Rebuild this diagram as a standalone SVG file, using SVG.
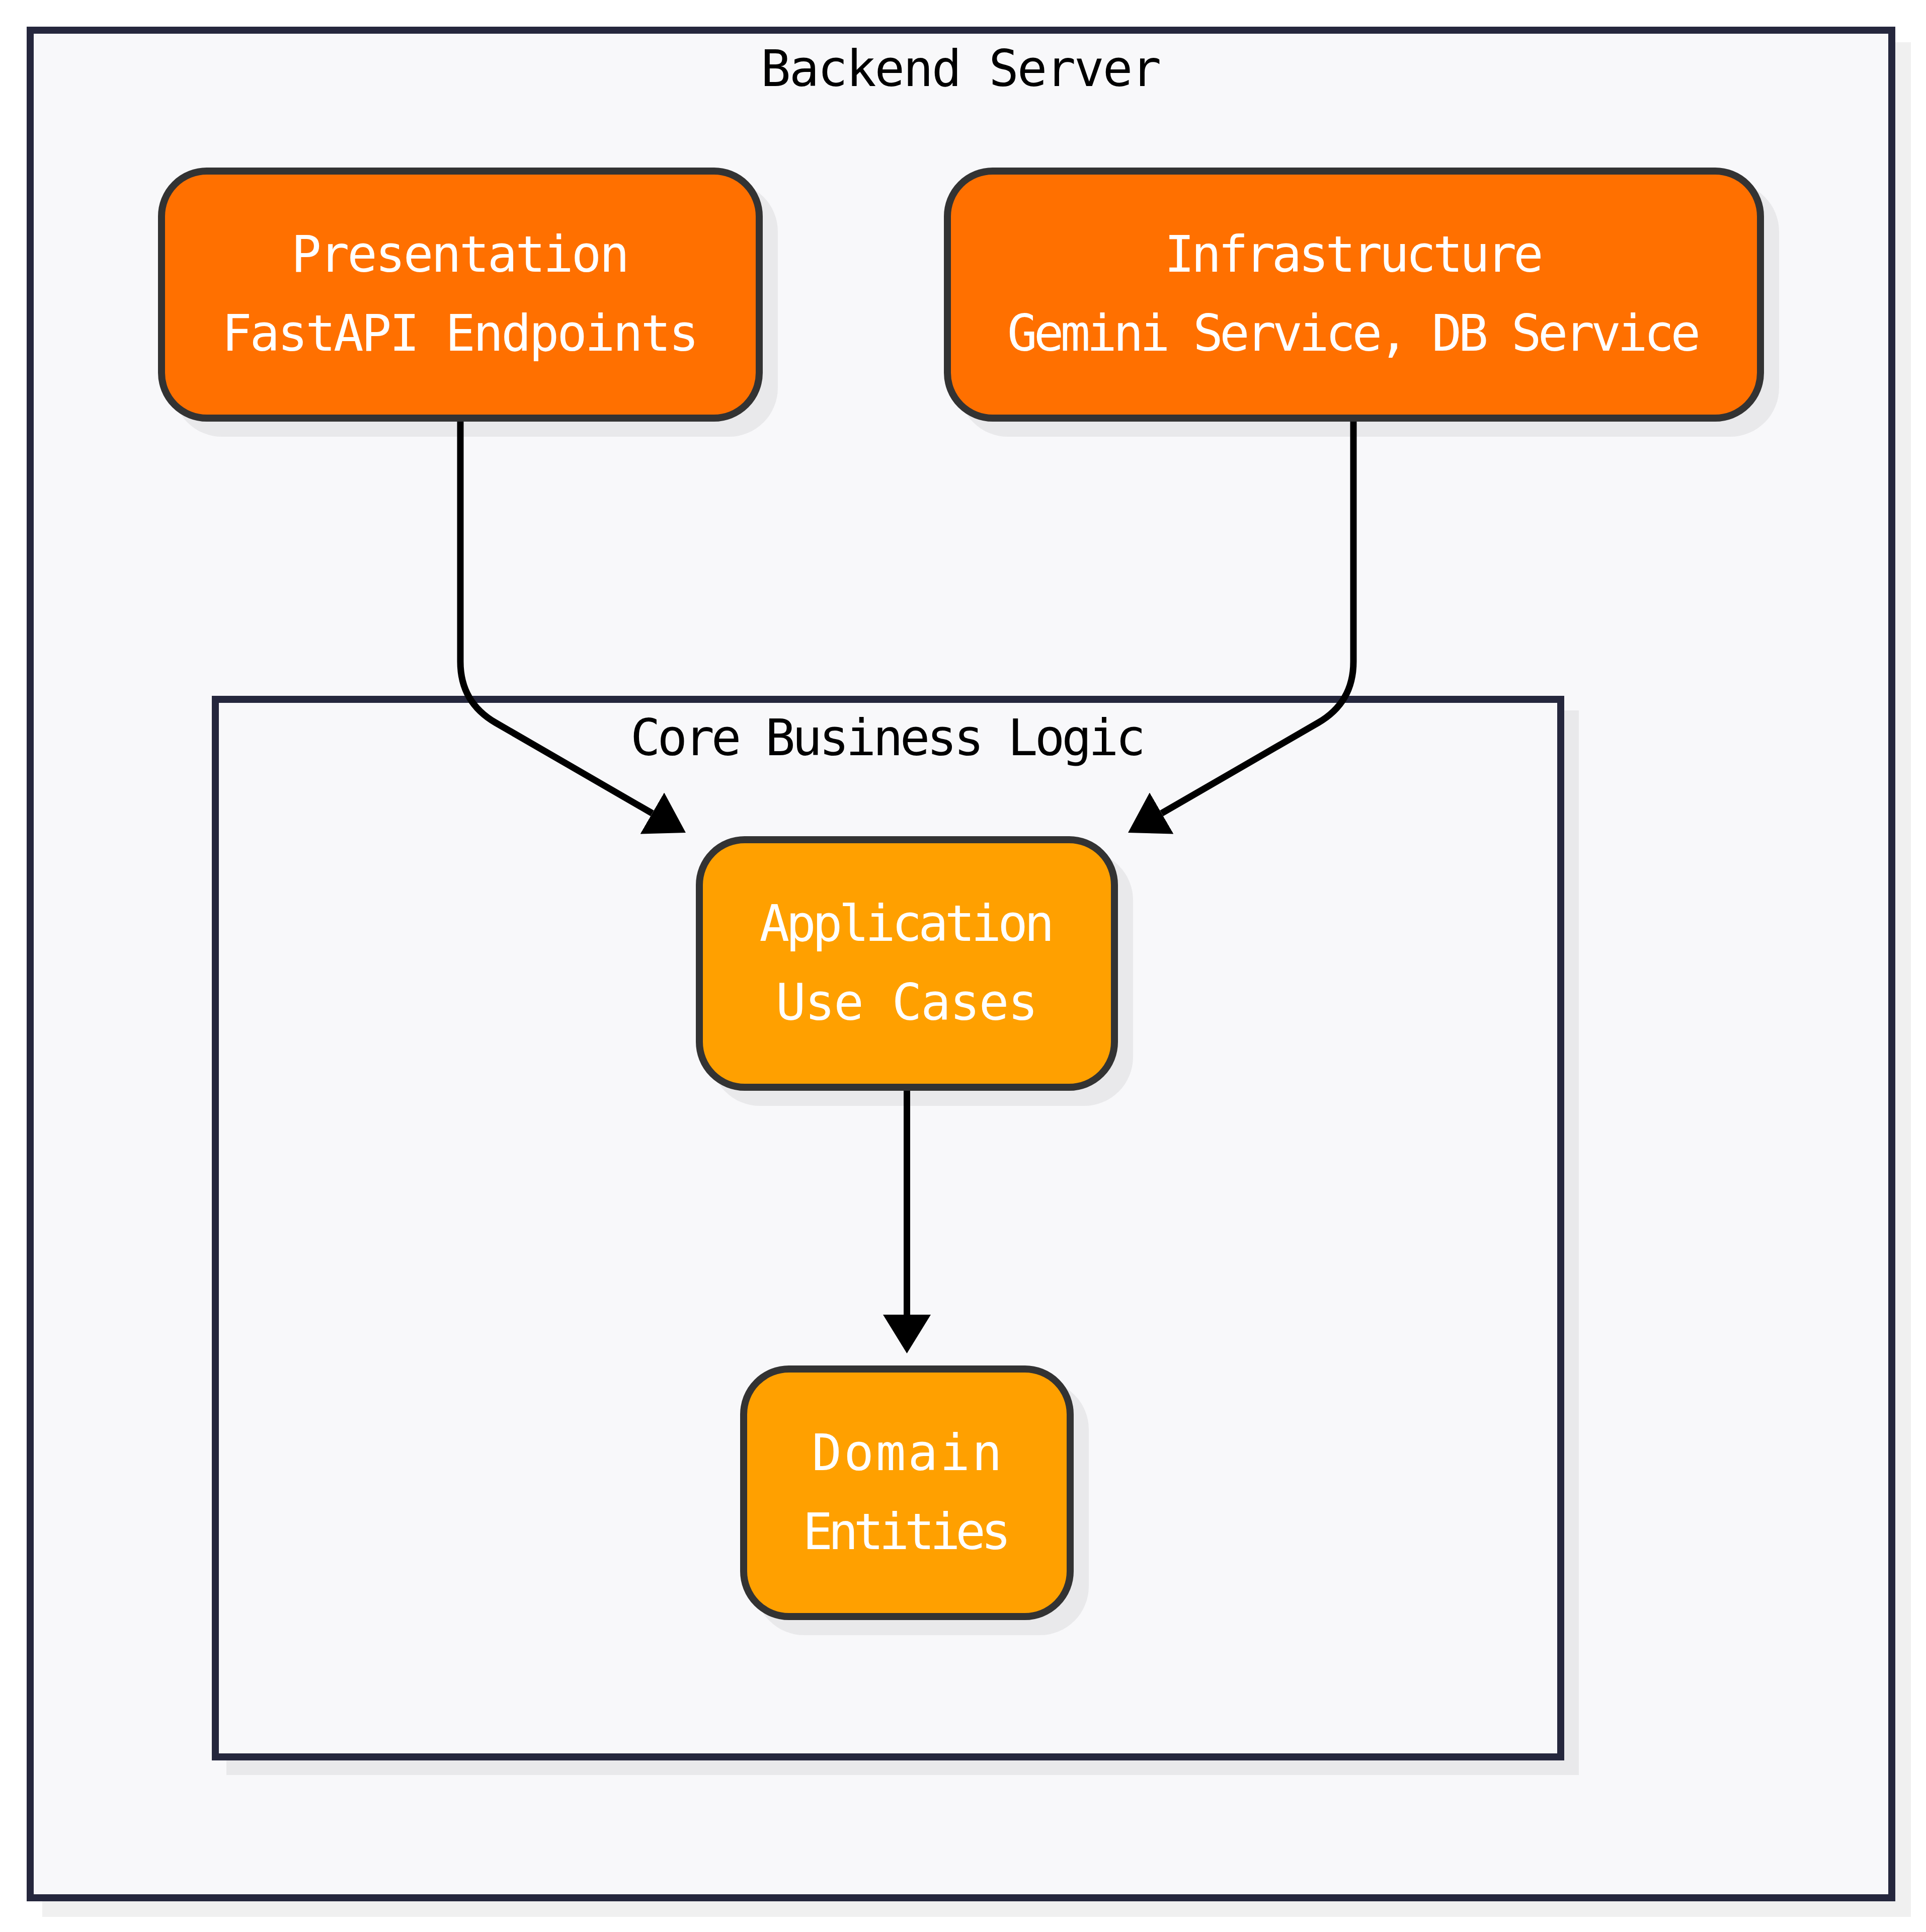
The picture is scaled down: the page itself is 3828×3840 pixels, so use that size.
<svg xmlns="http://www.w3.org/2000/svg" width="3828" height="3840" viewBox="0 0 3828 3840">
  <style>
    .cluster { fill: #f8f8fa; stroke: #25273d; stroke-width: 14; }
    .shadow { fill: #000000; fill-opacity: 0.06; }
    .node { stroke: #333333; stroke-width: 14; }
    .layer-outer { fill: #ff7000; }
    .layer-inner { fill: #ffa000; }
    .title { font-family: "DejaVu Sans Mono", "Liberation Mono", monospace; font-size: 99px; fill: #000000; text-anchor: middle; }
    .label { font-family: "DejaVu Sans Mono", "Liberation Mono", monospace; font-size: 99px; fill: #ffffff; text-anchor: middle; }
    .edge { fill: none; stroke: #000000; stroke-width: 13; }
  </style>
  <defs>
    <marker id="arrow" markerUnits="userSpaceOnUse" viewBox="0 0 77 95" markerWidth="77" markerHeight="95" refX="0" refY="47.5" orient="auto">
      <path d="M0,0 L77,47.5 L0,95 z" fill="#000000"/>
    </marker>
  </defs>
  <rect x="0" y="0" width="3828" height="3840" fill="#ffffff"/>

  <g id="cluster-backend-server">
    <rect class="shadow" x="84" y="84" width="3714" height="3726"/>
    <rect class="cluster" x="60" y="60" width="3700" height="3712"/>
    <text class="title" x="1910" y="171" textLength="796">Backend Server</text>
  </g>

  <g id="cluster-core-business-logic">
    <rect class="shadow" x="450" y="1412" width="2688" height="2116"/>
    <rect class="cluster" x="428" y="1390" width="2674" height="2102"/>
    <text class="title" x="1765" y="1501" textLength="1024">Core Business Logic</text>
  </g>

  <g id="node-presentation">
    <rect class="shadow" x="344" y="363" width="1202" height="505" rx="97" ry="97"/>
    <rect class="node layer-outer" x="321" y="340" width="1188" height="491" rx="90" ry="90"/>
    <text class="label" x="915" y="540" textLength="672">Presentation</text>
    <text class="label" x="915" y="697" textLength="948">FastAPI Endpoints</text>
  </g>

  <g id="node-infrastructure">
    <rect class="shadow" x="1906" y="363" width="1630" height="505" rx="97" ry="97"/>
    <rect class="node layer-outer" x="1883" y="340" width="1616" height="491" rx="90" ry="90"/>
    <text class="label" x="2691" y="540" textLength="753">Infrastructure</text>
    <text class="label" x="2691" y="697" textLength="1378">Gemini Service, DB Service</text>
  </g>

  <g id="node-application">
    <rect class="shadow" x="1413" y="1692" width="839" height="506" rx="97" ry="97"/>
    <rect class="node layer-inner" x="1390" y="1669" width="825" height="492" rx="90" ry="90"/>
    <text class="label" x="1802.5" y="1869.5" textLength="586">Application</text>
    <text class="label" x="1802.5" y="2026.5" textLength="521">Use Cases</text>
  </g>

  <g id="node-domain">
    <rect class="shadow" x="1501" y="2744" width="663" height="506" rx="97" ry="97"/>
    <rect class="node layer-inner" x="1478" y="2721" width="649" height="492" rx="90" ry="90"/>
    <text class="label" x="1802.5" y="2921.5" textLength="378">Domain</text>
    <text class="label" x="1802.5" y="3078.5" textLength="414">Entities</text>
  </g>

  <g id="connectors">
    <path class="edge" d="M915,838 L915,1315 Q915,1396 985.1,1436.5 L1296.3,1616.5" marker-end="url(#arrow)"/>
    <path class="edge" d="M2690,838 L2690,1315 Q2690,1396 2619.9,1436.5 L2308.7,1616.5" marker-end="url(#arrow)"/>
    <path class="edge" d="M1802.5,2168 L1802.5,2613" marker-end="url(#arrow)"/>
  </g>
</svg>
